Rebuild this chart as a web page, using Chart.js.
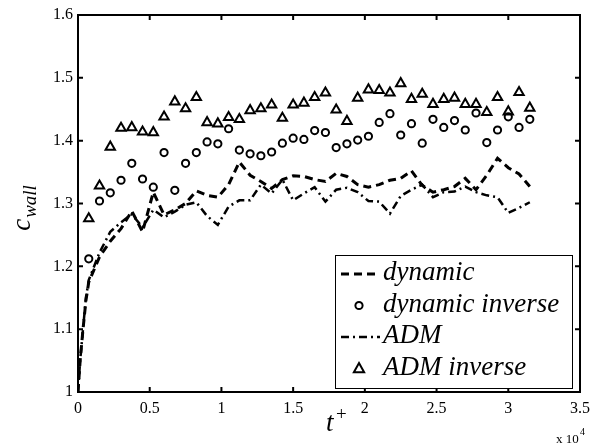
<!DOCTYPE html>
<html><head><meta charset="utf-8">
<script src="https://cdn.jsdelivr.net/npm/chart.js@4"></script>
<style>html,body{margin:0;padding:0;background:#fff}#wrap{width:600px;height:447px;position:relative}</style>
</head><body><div id="wrap"><canvas id="c" width="600" height="447"></canvas></div>
<script>
// ---- data (t in units of 1e4) ----
const tMarkers = [0.075,0.15,0.225,0.30,0.375,0.45,0.525,0.60,0.675,0.75,0.825,0.90,0.975,1.05,1.125,1.20,1.275,1.35,1.425,1.50,1.575,1.65,1.725,1.80,1.875,1.95,2.025,2.10,2.175,2.25,2.325,2.40,2.475,2.55,2.625,2.70,2.775,2.85,2.925,3.00,3.075,3.15];
const dynamicInverse = [1.212,1.304,1.317,1.337,1.364,1.339,1.326,1.381,1.321,1.364,1.381,1.398,1.395,1.419,1.385,1.379,1.376,1.382,1.396,1.404,1.402,1.416,1.413,1.389,1.395,1.401,1.407,1.429,1.443,1.409,1.427,1.396,1.434,1.421,1.432,1.417,1.444,1.397,1.417,1.438,1.421,1.434];
const admInverse = [1.276,1.328,1.390,1.420,1.421,1.414,1.413,1.438,1.462,1.451,1.469,1.429,1.427,1.437,1.434,1.448,1.451,1.457,1.436,1.457,1.460,1.469,1.476,1.449,1.431,1.468,1.481,1.480,1.476,1.491,1.466,1.474,1.458,1.466,1.468,1.458,1.458,1.445,1.469,1.446,1.477,1.452];
const tLines = [0,0.015,0.035,0.055,0.075,0.15,0.225,0.30,0.375,0.45,0.525,0.60,0.675,0.75,0.825,0.90,0.975,1.05,1.125,1.20,1.275,1.35,1.425,1.50,1.575,1.65,1.725,1.80,1.875,1.95,2.025,2.10,2.175,2.25,2.325,2.40,2.475,2.55,2.625,2.70,2.775,2.85,2.925,3.00,3.075,3.15];
const dynamicVals = [1.0,1.05,1.10,1.145,1.175,1.215,1.24,1.26,1.288,1.255,1.318,1.282,1.29,1.30,1.32,1.313,1.31,1.33,1.366,1.345,1.335,1.324,1.338,1.344,1.343,1.338,1.335,1.348,1.343,1.330,1.326,1.330,1.337,1.340,1.352,1.329,1.318,1.322,1.327,1.340,1.322,1.345,1.372,1.357,1.347,1.327];
const admVals = [1.0,1.05,1.10,1.15,1.178,1.222,1.255,1.27,1.283,1.262,1.29,1.278,1.287,1.298,1.302,1.28,1.266,1.295,1.305,1.305,1.33,1.316,1.338,1.305,1.316,1.326,1.303,1.322,1.325,1.318,1.304,1.303,1.284,1.312,1.322,1.33,1.31,1.318,1.319,1.327,1.318,1.313,1.31,1.285,1.293,1.302];
const xTicks = [0,0.5,1,1.5,2,2.5,3,3.5];
const xTickLabels = ['0','0.5','1','1.5','2','2.5','3','3.5'];
const yTicks = [1,1.1,1.2,1.3,1.4,1.5,1.6];
const yTickLabels = ['1','1.1','1.2','1.3','1.4','1.5','1.6'];
const seriesNames = ['dynamic','dynamic inverse','ADM','ADM inverse'];

const SERIF = '"Liberation Serif","DejaVu Serif",serif';
const pts = (xs, ys) => xs.map((x, i) => ({x, y: ys[i]}));

const dashDyn = [8,5];
const dashAdm = [8,4,2,4];

const boxPlugin = {
  id: 'matlabBox',
  afterDraw(chart) {
    const ctx = chart.ctx, a = chart.chartArea;
    const xs = chart.scales.x, ys = chart.scales.y;
    ctx.save();
    ctx.strokeStyle = '#000';
    ctx.lineWidth = 2;
    ctx.setLineDash([]);
    ctx.strokeRect(a.left, a.top, a.right - a.left, a.bottom - a.top);
    const tl = 5;
    ctx.beginPath();
    xTicks.forEach(v => {
      const px = xs.getPixelForValue(v);
      ctx.moveTo(px, a.bottom); ctx.lineTo(px, a.bottom - tl);
      ctx.moveTo(px, a.top); ctx.lineTo(px, a.top + tl);
    });
    yTicks.forEach(v => {
      const py = ys.getPixelForValue(v);
      ctx.moveTo(a.left, py); ctx.lineTo(a.left + tl, py);
      ctx.moveTo(a.right, py); ctx.lineTo(a.right - tl, py);
    });
    ctx.stroke();

    // legend
    const lx = 335, ly = 255, lw = 237, lh = 133;
    ctx.fillStyle = '#fff';
    ctx.fillRect(lx, ly, lw, lh);
    ctx.lineWidth = 1;
    ctx.strokeRect(lx + 0.5, ly + 0.5, lw, lh);
    const ds = chart.data.datasets;
    [0, 1, 2, 3].forEach((di, i) => {
      const d = ds[di];
      const base = ly + 25 + i * 31.5;
      const cy = base - 6;
      ctx.save();
      ctx.strokeStyle = '#000';
      if (d.showLine) {
        ctx.lineWidth = d.borderWidth;
        ctx.setLineDash(d.borderDash);
        ctx.beginPath(); ctx.moveTo(341, cy); ctx.lineTo(380, cy); ctx.stroke();
      } else {
        ctx.lineWidth = 2;
        ctx.setLineDash([]);
        ctx.beginPath();
        if (d.pointStyle === 'circle') {
          ctx.arc(359, cy, d.pointRadius, 0, Math.PI * 2);
        } else {
          const r = d.pointRadius;
          ctx.moveTo(359, cy - r);
          ctx.lineTo(359 + r * 0.95, cy + r * 0.7);
          ctx.lineTo(359 - r * 0.95, cy + r * 0.7);
          ctx.closePath();
        }
        ctx.stroke();
      }
      ctx.restore();
      ctx.fillStyle = '#000';
      ctx.font = 'italic 27px ' + SERIF;
      ctx.textBaseline = 'alphabetic';
      ctx.textAlign = 'left';
      ctx.fillText(d.label, 383, base);
    });

    // y title  c_wall
    ctx.save();
    ctx.translate(30, 208);
    ctx.rotate(-Math.PI / 2);
    ctx.fillStyle = '#000';
    ctx.textBaseline = 'alphabetic';
    ctx.font = 'italic 27px ' + SERIF;
    const wc = ctx.measureText('c').width;
    ctx.font = 'italic 19px ' + SERIF;
    const ww = ctx.measureText('wall').width;
    const start = -(wc + 1 + ww) / 2;
    ctx.font = 'italic 27px ' + SERIF;
    ctx.fillText('c', start, 0);
    ctx.font = 'italic 19px ' + SERIF;
    ctx.fillText('wall', start + wc + 1, 6);
    ctx.restore();

    // x title t+
    ctx.fillStyle = '#000';
    ctx.textBaseline = 'alphabetic';
    ctx.textAlign = 'left';
    ctx.font = 'italic 27px ' + SERIF;
    ctx.fillText('t', 326, 431);
    ctx.font = '19px ' + SERIF;
    ctx.fillText('+', 336, 420);

    // x 10^4
    ctx.font = '13px ' + SERIF;
    ctx.fillText('x 10', 556, 443);
    ctx.font = '10px ' + SERIF;
    ctx.fillText('4', 580, 435);
    ctx.restore();
  }
};

new Chart(document.getElementById('c'), {
  type: 'scatter',
  data: {
    datasets: [
      { label: seriesNames[0], data: pts(tLines, dynamicVals), showLine: true, borderColor: '#000', borderWidth: 3, borderDash: dashDyn, pointRadius: 0, fill: false, tension: 0, order: 2 },
      { label: seriesNames[1], data: pts(tMarkers, dynamicInverse), showLine: false, pointStyle: 'circle', pointRadius: 3.6, pointBorderWidth: 2, borderColor: '#000', backgroundColor: 'rgba(0,0,0,0)', pointBackgroundColor: 'rgba(0,0,0,0)', pointBorderColor: '#000', order: 1 },
      { label: seriesNames[2], data: pts(tLines, admVals), showLine: true, borderColor: '#000', borderWidth: 2.5, borderDash: dashAdm, pointRadius: 0, fill: false, tension: 0, order: 3 },
      { label: seriesNames[3], data: pts(tMarkers, admInverse), showLine: false, pointStyle: 'triangle', pointRadius: 5.4, pointBorderWidth: 2, borderColor: '#000', backgroundColor: 'rgba(0,0,0,0)', pointBackgroundColor: 'rgba(0,0,0,0)', pointBorderColor: '#000', order: 0 }
    ]
  },
  options: {
    responsive: false,
    animation: false,
    devicePixelRatio: 1,
    layout: { padding: { left: 0, top: 15, right: 20, bottom: 0 } },
    plugins: { legend: { display: false }, tooltip: { enabled: false } },
    scales: {
      x: {
        type: 'linear', min: 0, max: 3.5,
        afterBuildTicks: s => { s.ticks = xTicks.map(v => ({ value: v })); },
        ticks: { color: '#000', font: { family: SERIF, size: 16 }, padding: 7, maxRotation: 0,
                 callback: (v, i) => xTickLabels[i] },
        grid: { display: false, drawTicks: false },
        border: { display: false },
        afterFit: s => { s.height = 55; }
      },
      y: {
        type: 'linear', min: 1, max: 1.6,
        afterBuildTicks: s => { s.ticks = yTicks.map(v => ({ value: v })); },
        ticks: { color: '#000', font: { family: SERIF, size: 16 }, padding: 5,
                 callback: (v, i) => yTickLabels[i] },
        grid: { display: false, drawTicks: false },
        border: { display: false },
        afterFit: s => { s.width = 78; }
      }
    }
  },
  plugins: [boxPlugin]
});
</script>
</body></html>
